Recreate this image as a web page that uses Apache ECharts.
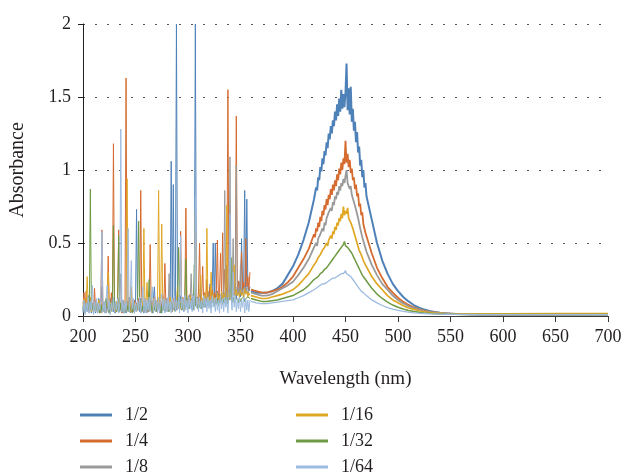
<!DOCTYPE html>
<html>
<head>
<meta charset="utf-8">
<script src="https://cdn.jsdelivr.net/npm/echarts@6/dist/echarts.min.js"></script>
<style>
html, body { margin: 0; padding: 0; background: #fff; }
#chart { width: 627px; height: 472px; }
</style>
</head>
<body>
<div id="chart"></div>
<script>
// dilutions shown in the legend
const dilutions = ['1/2', '1/4', '1/8', '1/16', '1/32', '1/64'];
const colors = ['#4f81b9', '#d56b2f', '#9a9a9a', '#e0a725', '#6e9a43', '#9dbbe0'];

const xTicks = [200, 250, 300, 350, 400, 450, 500, 550, 600, 650, 700];
const yTicks = [0, 0.5, 1, 1.5, 2];

// noisy part of the spectra, one reading per nm from 200 to 359 nm
const noiseWl = [];
for (let w = 200; w < 360; w++) noiseWl.push(w);

const noise_1_2 = [
  .04,.12,.02,.09,.03,.14,.05,.10,.02,.08,
  .05,.11,.02,.07,.04,.12,.03,.09,.20,.04,
  .08,.02,.11,.05,.09,.02,.12,.04,.07,.03,
  .10,.02,.08,.05,.12,.03,.09,.02,.11,.04,
  .07,.02,.10,.05,.13,.03,.08,.04,.11,.02,
  .06,.73,.05,.10,.03,.12,.04,.09,.02,.11,
  .05,.08,.03,.16,.04,.10,.02,.12,.20,.05,
  .09,.03,.12,.05,.10,.02,.13,.04,.09,.06,
  .12,.03,.10,.05,1.06,.08,.90,.04,.10,2.0,
  .06,.12,.04,.14,.06,.10,.03,.13,.07,.11,
  .05,.14,.07,.12,.04,.15,.08,2.0,.06,.13,
  .07,.15,.05,.12,.08,.16,.06,.13,.09,.17,
  .07,.22,.10,.14,.50,.09,.50,.12,.17,.08,
  .15,.10,.18,.09,.16,.12,.20,.35,.11,.18,
  .13,.21,.10,.19,.14,.22,.12,.20,.15,.23,
  .13,.53,.16,.21,.86,.15,.80,.19,.17,.20
];
const noise_1_4 = [
  .08,.16,.03,.17,.05,.10,.02,.13,.06,.09,
  .04,.19,.03,.08,.05,.11,.02,.09,.59,.04,
  .07,.03,.10,.05,.41,.06,.03,.16,.04,1.18,
  .05,.09,.03,.12,.59,.04,.08,.02,.11,.05,
  .09,1.63,.04,.10,.03,.12,.05,.08,.03,.11,
  .05,.09,.04,.12,.06,.86,.05,.10,.03,.12,
  .06,.09,.03,.11,.49,.05,.10,.04,.13,.06,
  .09,.03,.12,.05,.10,.04,.14,.06,.36,.05,
  .11,.04,.13,.06,.10,.03,.12,.05,.09,.04,
  .14,.07,.11,.58,.06,.13,.08,.15,.74,.07,
  .12,.05,.15,.08,.11,.06,.16,.09,.13,.07,
  .17,.50,.10,.14,.34,.08,.16,.11,.25,.09,
  .15,.20,.11,.18,.09,.16,.12,.19,.52,.10,
  .17,.43,.12,.57,.15,.32,.13,.20,1.55,.16,
  .22,.14,.19,.30,.15,.23,1.37,.17,.24,.15,
  .26,.44,.18,.23,.16,.53,.20,.27,.18,.30
];
const noise_1_8 = [
  .03,.09,.02,.07,.04,.10,.02,.06,.03,.08,
  .02,.07,.04,.09,.02,.06,.03,.08,.02,.07,
  .04,.09,.02,.06,.03,.08,.02,.10,.04,.07,
  .02,.08,.03,.06,.02,.09,.29,.04,.07,.02,
  .08,.03,.10,.04,.07,.02,.09,.03,.06,.02,
  .08,.03,.10,.04,.07,.02,.09,.03,.11,.04,
  .07,.02,.09,.03,.10,.04,.06,.02,.09,.03,
  .08,.04,.10,.02,.07,.03,.09,.04,.11,.03,
  .07,.04,.29,.05,.09,.03,.08,.05,.11,.04,
  .09,.05,.12,.06,.08,.04,.11,.05,.09,.06,
  .12,.05,.10,.29,.07,.11,.05,.13,.08,.10,
  .06,.12,.20,.08,.11,.06,.13,.09,.12,.07,
  .14,.08,.12,.10,.15,.07,.13,.09,.16,.10,
  .13,.09,.16,.11,.14,.86,.12,.17,.10,.15,
  1.09,.13,.18,.53,.14,.17,1.03,.15,.19,.13,
  .35,.15,.18,.13,.20,.16,.19,.14,.18,.17
];
const noise_1_16 = [
  .06,.12,.04,.09,.27,.05,.10,.13,.03,.08,
  .05,.10,.03,.08,.06,.11,.02,.09,.05,.07,
  .03,.10,.06,.08,.30,.04,.09,.03,.11,.05,
  .08,.03,.10,.05,.12,.04,.09,.03,.07,.05,
  .10,.04,.94,.06,.09,.03,.20,.05,.11,.04,
  .08,.03,.12,.05,.09,.04,.11,.06,.60,.05,
  .09,.23,.04,.11,.06,.08,.03,.12,.05,.09,
  .04,.11,.86,.06,.10,.63,.05,.12,.07,.09,
  .04,.11,.06,.13,.05,.10,.07,.12,.04,.09,
  .20,.06,.11,.05,.13,.07,.10,.04,.12,.08,
  .11,.06,.14,.07,.10,.05,.13,.72,.08,.12,
  .06,.14,.28,.09,.12,.07,.15,.10,.60,.08,
  .13,.09,.30,.11,.15,.08,.13,.10,.16,.09,
  .14,.11,.17,.10,.15,.12,.18,.76,.13,.16,
  .11,.17,.13,.15,.35,.12,.18,.14,.16,.13,
  .18,.14,.16,.12,.19,.15,.17,.13,.16,.14
];
const noise_1_32 = [
  .05,.10,.02,.07,.04,.09,.03,.87,.05,.08,
  .02,.06,.04,.09,.03,.07,.02,.08,.04,.06,
  .03,.09,.12,.05,.07,.02,.08,.04,.06,.62,
  .04,.08,.03,.07,.55,.04,.09,.03,.06,.02,
  .08,.04,.07,.03,.09,.05,.06,.02,.08,.04,
  .07,.03,.09,.65,.05,.08,.03,.07,.04,.09,
  .03,.06,.04,.25,.05,.08,.02,.07,.04,.09,
  .03,.06,.05,.08,.02,.07,.04,.09,.03,.06,
  .05,.08,.03,.07,.04,.09,.05,.06,.03,.08,
  .05,.47,.06,.09,.04,.08,.05,.10,.39,.06,
  .09,.05,.08,.06,.10,.04,.35,.07,.09,.05,
  .08,.06,.10,.05,.09,.07,.11,.06,.08,.07,
  .10,.06,.09,.08,.11,.07,.10,.08,.12,.07,
  .10,.09,.12,.08,.11,.09,.13,.08,.10,.09,
  .12,.40,.10,.13,.09,.11,.10,.12,.09,.13,
  .10,.12,.11,.13,.10,.12,.11,.13,.12,.12
];
const noise_1_64 = [
  .02,.11,.01,.09,.03,.13,.02,.10,.04,.21,
  .01,.10,.03,.12,.02,.09,.04,.11,.58,.03,
  .10,.02,.12,.21,.04,.11,.01,.09,.03,.13,
  .02,.10,.04,.12,.02,.09,1.28,.03,.11,.02,
  .10,.04,.13,.60,.03,.11,.38,.05,.12,.02,
  .09,.03,.11,.04,.13,.02,.10,.20,.03,.12,
  .02,.11,.04,.13,.03,.10,.20,.02,.12,.04,
  .11,.02,.13,.03,.10,.15,.04,.12,.02,.11,
  .03,.13,.04,.10,.02,.12,.05,.14,.03,.11,
  .04,.13,.02,.55,.05,.12,.03,.14,.04,.11,
  .02,.13,.05,.11,.03,.14,.04,.82,.06,.12,
  .03,.13,.05,.11,.02,.14,.06,.12,.03,.13,
  .05,.11,.02,.14,.06,.12,.03,.13,.04,.11,
  .02,.14,.05,.12,.03,.13,.06,.11,.02,.14,
  .70,.12,.04,.30,.06,.14,.03,.12,.05,.13,
  .03,.11,.06,.13,.02,.12,.04,.11,.03,.11
];

// left flank, 360 to 419 nm (5 nm steps)
const leftWl = [360,365,370,375,380,385,390,395,400,405,410,415];
const left_1_2  = [.17,.16,.16,.16,.17,.19,.22,.28,.34,.42,.52,.64];
const left_1_4  = [.18,.17,.16,.16,.17,.18,.20,.23,.27,.33,.39,.46];
const left_1_8  = [.16,.15,.14,.14,.15,.17,.19,.21,.235,.28,.33,.39];
const left_1_16 = [.14,.13,.12,.12,.13,.14,.15,.165,.18,.21,.25,.29];
const left_1_32 = [.12,.11,.10,.10,.105,.11,.12,.13,.14,.16,.18,.21];
const left_1_64 = [.10,.09,.085,.085,.09,.095,.10,.105,.11,.125,.14,.16];

// absorption peak, one reading per nm from 420 to 470 nm
const peakWl = [];
for (let w = 420; w <= 470; w++) peakWl.push(w);

const peak_1_2 = [
  .80,.79,.88,.86,.95,.93,1.02,.99,1.08,1.04,
  1.13,1.10,1.19,1.15,1.25,1.21,1.30,1.25,1.34,1.30,
  1.40,1.34,1.45,1.37,1.49,1.40,1.55,1.42,1.52,1.43,
  1.53,1.73,1.41,1.56,1.38,1.57,1.33,1.42,1.27,1.33,
  1.19,1.26,1.12,1.16,1.03,1.07,.95,1.00,.88,.91,
  .82
];
const peak_1_4 = [
  .56,.54,.60,.58,.64,.61,.68,.65,.72,.69,
  .76,.73,.80,.76,.83,.80,.87,.83,.90,.86,
  .93,.89,.97,.93,1.01,.97,1.05,1.00,1.08,1.04,
  1.20,1.05,1.11,1.02,1.07,.98,1.01,.93,.95,.87,
  .90,.82,.84,.75,.77,.69,.71,.63,.64,.57,
  .58
];
const peak_1_8 = [
  .47,.46,.50,.48,.53,.52,.56,.55,.60,.58,
  .64,.62,.67,.66,.71,.70,.74,.72,.78,.76,
  .82,.80,.85,.83,.89,.86,.91,.89,.94,.91,
  .96,1.00,.91,.92,.87,.89,.83,.84,.78,.79,
  .73,.73,.67,.66,.60,.59,.54,.53,.49,.48,
  .44
];
const peak_1_16 = [
  .35,.34,.37,.36,.40,.39,.42,.41,.45,.44,
  .47,.46,.50,.48,.52,.51,.55,.53,.58,.56,
  .61,.59,.64,.62,.67,.65,.70,.67,.75,.69,
  .72,.70,.74,.67,.68,.64,.64,.60,.59,.55,
  .55,.50,.50,.45,.46,.42,.42,.38,.38,.35,
  .34
];
const peak_1_32 = [
  .25,.24,.26,.25,.27,.27,.29,.28,.30,.30,
  .32,.31,.33,.33,.35,.35,.37,.36,.39,.38,
  .41,.40,.43,.42,.45,.44,.47,.46,.49,.51,
  .48,.49,.47,.47,.45,.45,.43,.43,.40,.40,
  .37,.37,.34,.33,.31,.30,.28,.28,.26,.25,
  .24
];
const peak_1_64 = [
  .18,.19,.19,.20,.20,.20,.21,.21,.22,.22,
  .22,.23,.23,.24,.24,.24,.25,.25,.26,.26,
  .26,.27,.27,.28,.28,.28,.29,.29,.29,.30,
  .31,.29,.29,.28,.28,.27,.26,.25,.24,.23,
  .22,.21,.20,.19,.18,.17,.165,.16,.15,.145,
  .14
];

// right flank and tail, 475 to 700 nm
const rightWl = [475,480,485,490,495,500,505,510,515,520,525,530,535,540,545,550,555,560,580,600,650,700];
const right_1_2  = [.66,.50,.38,.29,.22,.17,.13,.10,.075,.057,.044,.034,.027,.022,.018,.016,.014,.013,.011,.010,.010,.011];
const right_1_4  = [.43,.33,.26,.20,.16,.125,.097,.076,.06,.047,.037,.030,.025,.021,.018,.016,.014,.013,.011,.010,.010,.011];
const right_1_8  = [.35,.28,.22,.18,.14,.11,.086,.068,.054,.043,.034,.028,.023,.020,.017,.015,.014,.013,.011,.010,.010,.011];
const right_1_16 = [.27,.22,.18,.14,.11,.09,.07,.055,.045,.036,.029,.024,.020,.018,.016,.015,.015,.015,.015,.015,.016,.017];
const right_1_32 = [.19,.15,.12,.095,.075,.06,.048,.038,.031,.025,.021,.018,.016,.014,.013,.012,.012,.011,.011,.010,.010,.011];
const right_1_64 = [.11,.09,.072,.058,.047,.038,.031,.026,.022,.019,.017,.015,.014,.013,.012,.012,.011,.011,.010,.010,.010,.010];

const noiseData = [noise_1_2, noise_1_4, noise_1_8, noise_1_16, noise_1_32, noise_1_64];
const leftData = [left_1_2, left_1_4, left_1_8, left_1_16, left_1_32, left_1_64];
const peakData = [peak_1_2, peak_1_4, peak_1_8, peak_1_16, peak_1_32, peak_1_64];
const rightData = [right_1_2, right_1_4, right_1_8, right_1_16, right_1_32, right_1_64];
const bandWidth = [2.0, 1.8, 1.8, 1.7, 1.5, 1.3];

const font = 'Liberation Serif';
const ink = '#231f20';

function pairs(xs, ys) {
  return xs.map((x, i) => [x, ys[i]]);
}

var series = [];
// band curves first, the noisy UV part drawn above them (1/64 ends on top like in the original)
dilutions.forEach(function (name, i) {
  series.push({
    name: name, type: 'line', symbol: 'none', silent: true,
    data: pairs(leftWl, leftData[i]).concat(pairs(peakWl, peakData[i]), pairs(rightWl, rightData[i])),
    lineStyle: { color: colors[i], width: bandWidth[i] },
    itemStyle: { color: colors[i] }
  });
});
dilutions.forEach(function (name, i) {
  series.push({
    name: name, type: 'line', symbol: 'none', silent: true,
    data: pairs(noiseWl, noiseData[i]),
    lineStyle: { color: colors[i], width: 1 },
    itemStyle: { color: colors[i] }
  });
});

var legendBase = {
  orient: 'vertical', top: 406, height: 90, padding: 0,
  itemWidth: 32, itemHeight: 3, itemGap: 8,
  icon: 'rect', selectedMode: false,
  textStyle: { fontFamily: font, fontSize: 18, color: ink, padding: [0, 0, 0, 8] }
};

var option = {
  animation: false,
  backgroundColor: '#fff',
  grid: { left: 82, right: 19, top: 24, bottom: 156 },
  legend: [
    Object.assign({}, legendBase, { left: 80, data: dilutions.slice(0, 3) }),
    Object.assign({}, legendBase, { left: 296, data: dilutions.slice(3) })
  ],
  xAxis: {
    type: 'value', min: xTicks[0], max: xTicks[xTicks.length - 1], interval: 50,
    name: 'Wavelength (nm)', nameLocation: 'middle', nameGap: 54,
    nameTextStyle: { fontFamily: font, fontSize: 19, color: ink },
    axisLine: { lineStyle: { color: '#3a3a3a', width: 1 } },
    axisTick: { length: 6, lineStyle: { color: '#3a3a3a' } },
    axisLabel: { fontFamily: font, fontSize: 18, color: ink, margin: 12 },
    splitLine: { show: false }
  },
  yAxis: {
    type: 'value', min: yTicks[0], max: yTicks[yTicks.length - 1], interval: 0.5,
    name: 'Absorbance', nameLocation: 'middle', nameGap: 55,
    nameTextStyle: { fontFamily: font, fontSize: 20, color: ink },
    axisLine: { show: true, lineStyle: { color: '#231f20', width: 1 } },
    axisTick: { show: true, length: 5, lineStyle: { color: '#231f20' } },
    axisLabel: { fontFamily: font, fontSize: 18, color: ink, margin: 12 },
    splitLine: { show: true, lineStyle: { color: '#555', width: 1, type: [2, 10] } }
  },
  series: series
};

var myChart = echarts.init(document.getElementById('chart'));
myChart.setOption(option);
</script>
</body>
</html>
